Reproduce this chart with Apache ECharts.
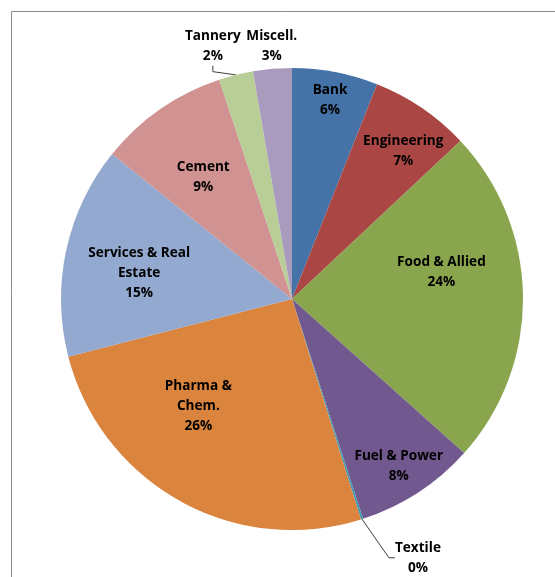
<!DOCTYPE html>
<html><head><meta charset="utf-8">
<script src="https://cdn.jsdelivr.net/npm/echarts@6/dist/echarts.min.js"></script>
<style>html,body{margin:0;padding:0;background:#fff}#c{width:555px;height:577px}</style>
</head><body><div id="c"></div>
<script>
var categories = ['Bank','Engineering','Food & Allied','Fuel & Power','Textile','Pharma & Chem.','Services & Real Estate','Cement','Tannery','Miscell.'];
var labelNames = ['Bank','Engineering','Food & Allied','Fuel & Power','Textile','Pharma &\nChem.','Services & Real\nEstate','Cement','Tannery','Miscell.'];
var values = [6.0, 7.0, 23.6, 8.4, 0.15, 25.8, 14.8, 9.1, 2.4, 2.7];
var colors = ['#4572A7','#AA4643','#89A54E','#71588F','#4198AF','#DB843D','#93A9CF','#D19392','#B9CD96','#A99BBD'];

// label placement: fraction of radius and angle shift (degrees) from slice mid-angle
var labelRadius = [0.877, 0.80, 0.657, 0.859, 1.246, 0.617, 0.671, 0.654, 1.149, 1.10];
var labelShift  = [0, 2.8, -9.4, 0.5, -8.3, 12, -2.6, -1.2, -3.3, 0.3];
var outsideLabel = [false,false,false,false,true,false,false,false,true,true];
var showLeader   = [false,false,false,false,true,false,false,false,true,false];

var CX = 292, CY = 299, R = 231;

var total = values.reduce(function(a,b){return a+b;},0);
function midAngle(i){
  var cum = 0;
  for (var j = 0; j < i; j++) cum += values[j];
  return (cum + values[i]/2) / total * 360;
}

var chart = echarts.init(document.getElementById('c'), null, {renderer:'canvas'});
var data = categories.map(function(c,i){
  return {
    name: c,
    value: values[i],
    itemStyle: {color: colors[i]},
    label: {position: outsideLabel[i] ? 'outside' : 'inside'},
    labelLine: {show: showLeader[i]}
  };
});
chart.setOption({
  animation: false,
  backgroundColor: '#fff',
  graphic: [{
    type: 'rect', silent: true, z: -10,
    shape: {x: 11.5, y: 11.5, width: 700, height: 700},
    style: {fill: 'none', stroke: '#8c8c8c', lineWidth: 1}
  }],
  series: [{
    type: 'pie',
    center: [CX, CY],
    radius: [0, R],
    startAngle: 90,
    clockwise: true,
    avoidLabelOverlap: false,
    itemStyle: {borderWidth: 0},
    emphasis: {disabled: true},
    label: {
      show: true,
      color: '#000',
      fontFamily: 'Open Sans',
      fontWeight: 'bold',
      fontSize: 13.6,
      lineHeight: 20,
      align: 'center',
      formatter: function(p){ return labelNames[p.dataIndex] + '\n' + Math.round(p.percent) + '%'; }
    },
    labelLine: {
      length: 12, length2: 6,
      lineStyle: {color: '#404040', width: 1}
    },
    labelLayout: function(p){
      var i = p.dataIndex;
      var a = (midAngle(i) + labelShift[i]) * Math.PI / 180;
      var r = labelRadius[i] * R;
      return {x: CX + r*Math.sin(a), y: CY - r*Math.cos(a), align: 'center', verticalAlign: 'middle'};
    },
    data: data
  }]
});
</script>
</body></html>
